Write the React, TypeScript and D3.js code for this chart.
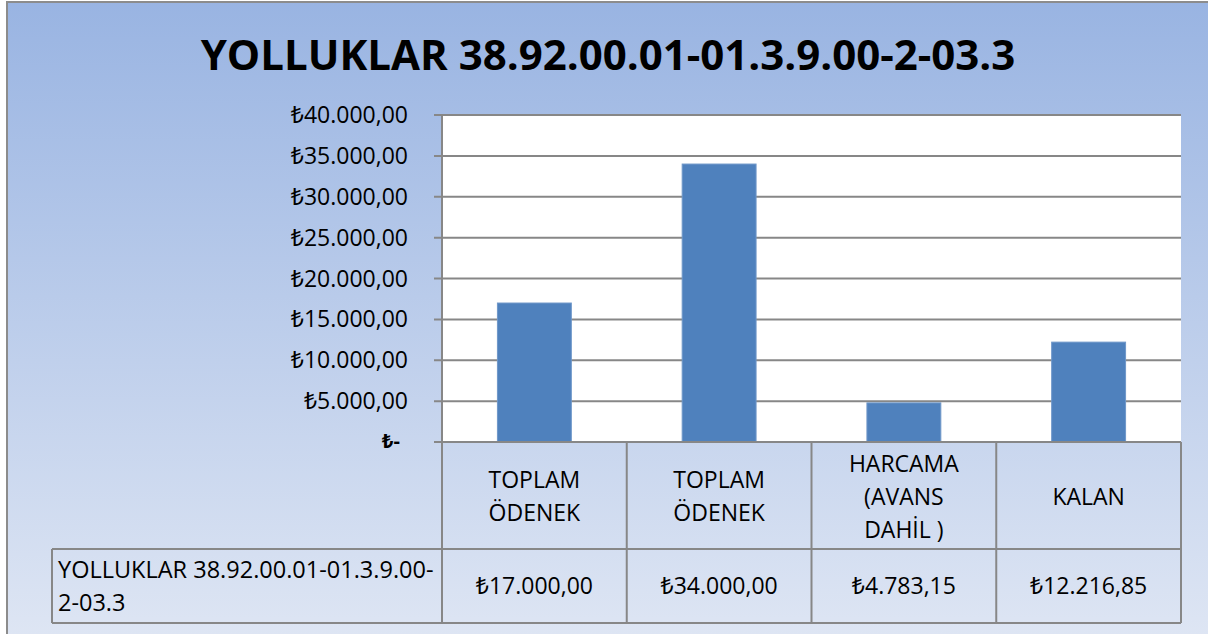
import React from 'react';
import * as d3 from 'd3';

const title = 'YOLLUKLAR 38.92.00.01-01.3.9.00-2-03.3';
const seriesName = ['YOLLUKLAR 38.92.00.01-01.3.9.00-', '2-03.3'];
const categories = [
  ['TOPLAM', 'ÖDENEK'],
  ['TOPLAM', 'ÖDENEK'],
  ['HARCAMA', '(AVANS', 'DAHİL )'],
  ['KALAN'],
];
const values = [17000, 34000, 4783.15, 12216.85];
const valueLabels = ['₺17.000,00', '₺34.000,00', '₺4.783,15', '₺12.216,85'];
const yTicks = [0, 5000, 10000, 15000, 20000, 25000, 30000, 35000, 40000];

const W = 1208;
const H = 634;
const font = '"Open Sans", "Noto Sans", sans-serif';

const fmt = (v: number) =>
  v === 0 ? '₺-' : '₺' + d3.format(',.2f')(v).replace(/,/g, '#').replace('.', ',').replace(/#/g, '.');

export default function App() {
  const left = 442;
  const right = 1181;
  const top = 115;
  const bottom = 442;
  const headerBottom = 549;
  const rowBottom = 623;
  const tableLeft = 52;

  const x = d3
    .scaleBand<number>()
    .domain(values.map((_, i) => i))
    .range([left, right])
    .paddingInner(0.6)
    .paddingOuter(0.3);
  const step = (right - left) / values.length;
  const y = d3.scaleLinear().domain([0, 40000]).range([bottom, top]);
  const grid = '#878787';

  return (
    <svg
      width={W}
      height={H}
      style={{ position: 'absolute', left: 0, top: 0, display: 'block' }}
      fontFamily={font}
    >
      <defs>
        <linearGradient id="bg" x1="0" y1="0" x2="0" y2="1">
          <stop offset="0" stopColor="#99b4e2" />
          <stop offset="1" stopColor="#e0e7f4" />
        </linearGradient>
      </defs>
      <rect x={0} y={0} width={W} height={H} fill="#ffffff" />
      <rect x={7} y={2} width={W + 20} height={H + 20} fill="url(#bg)" stroke="#8c8c8c" strokeWidth={2} />

      <text x={608} y={70} textAnchor="middle" fontSize={42} fontWeight="bold" fill="#000">
        {title}
      </text>

      {/* plot area */}
      <rect x={left} y={top} width={right - left} height={bottom - top} fill="#fff" />
      {yTicks.map((t) => (
        <g key={t}>
          <line x1={left - 8} x2={right} y1={y(t)} y2={y(t)} stroke={grid} strokeWidth={2} />
          <text
            x={t === 0 ? 400 : 408}
            y={y(t) + (t === 0 ? 6 : 8)}
            textAnchor="end"
            fontSize={t === 0 ? 20 : 23}
            fontWeight={t === 0 ? 'bold' : 'normal'}
            fill="#000"
          >
            {fmt(t)}
          </text>
        </g>
      ))}
      {values.map((v, i) => (
        <rect
          key={i}
          x={x(i)}
          y={y(v)}
          width={x.bandwidth()}
          height={bottom - y(v)}
          fill="#4f81bd"
          stroke="#6f97c9"
          strokeWidth={1}
        />
      ))}
      <line x1={left} x2={left} y1={top} y2={bottom} stroke={grid} strokeWidth={2} />

      {/* data table */}
      <g stroke={grid} strokeWidth={2} fill="none">
        <line x1={left} x2={right} y1={bottom} y2={bottom} />
        <line x1={tableLeft} x2={right} y1={headerBottom} y2={headerBottom} />
        <line x1={tableLeft} x2={right} y1={rowBottom} y2={rowBottom} />
        <line x1={tableLeft} x2={tableLeft} y1={headerBottom} y2={rowBottom} />
        {d3.range(values.length + 1).map((k) => (
          <line key={k} x1={left + k * step} x2={left + k * step} y1={bottom} y2={rowBottom} />
        ))}
      </g>
      {categories.map((lines, i) => {
        const cx = left + (i + 0.5) * step;
        const cy = (bottom + headerBottom) / 2;
        const lh = 33;
        return (
          <text key={i} textAnchor="middle" fontSize={23} fill="#000">
            {lines.map((l, j) => (
              <tspan key={j} x={cx} y={cy + (j - (lines.length - 1) / 2) * lh + 9}>
                {l}
              </tspan>
            ))}
          </text>
        );
      })}
      {valueLabels.map((l, i) => (
        <text
          key={i}
          x={left + (i + 0.5) * step}
          y={(headerBottom + rowBottom) / 2 + 8}
          textAnchor="middle"
          fontSize={23}
          fill="#000"
        >
          {l}
        </text>
      ))}
      <text fontSize={23.5} fill="#000">
        {seriesName.map((l, j) => (
          <tspan key={j} x={58} y={578 + j * 33}>
            {l}
          </tspan>
        ))}
      </text>
    </svg>
  );
}
